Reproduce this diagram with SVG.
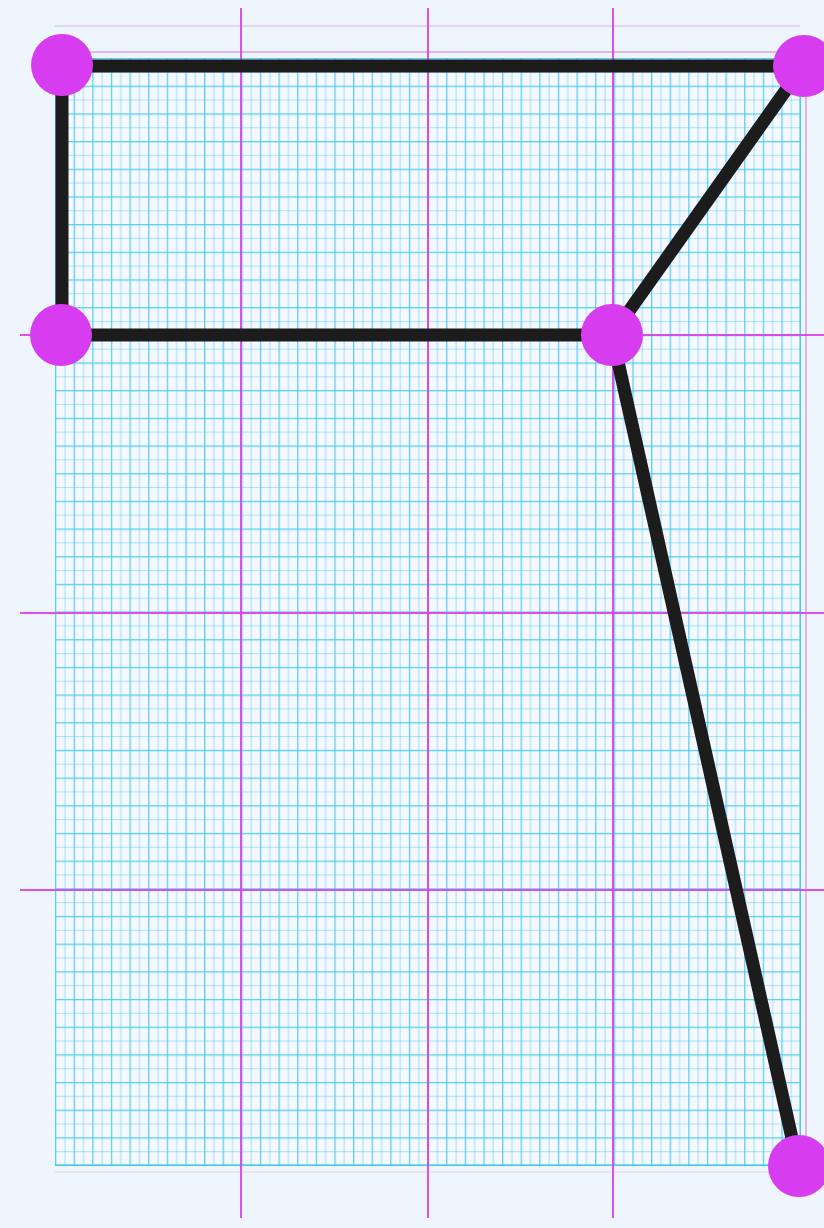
<svg xmlns="http://www.w3.org/2000/svg" width="824" height="1228" viewBox="0 0 824 1228">
<defs>
<pattern id="grid" patternUnits="userSpaceOnUse" x="55" y="58" width="18.625" height="27.675">
<line x1="0.6" y1="0" x2="0.6" y2="27.675" stroke="#3fc8ee" stroke-width="1.4" opacity="0.85"/>
<line x1="9.9" y1="0" x2="9.9" y2="27.675" stroke="#3fc8ee" stroke-width="1" opacity="0.5"/>
<line x1="0" y1="0.6" x2="18.625" y2="0.6" stroke="#3fc8ee" stroke-width="1.4" opacity="0.85"/>
<line x1="0" y1="14.4" x2="18.625" y2="14.4" stroke="#3fc8ee" stroke-width="1" opacity="0.45"/>
</pattern>
<style>
.major{stroke:#de3fe6;stroke-width:2;opacity:0.9}
.thin{stroke:#d9a0e8;stroke-width:1.5}
.edge{stroke:#1c1c1c;stroke-width:13;stroke-linecap:round}
.node{fill:#d83cf0}
</style>
</defs>
<rect width="824" height="1228" fill="#eef5fd"/>
<g id="grid-paper">
<rect x="55" y="58" width="745" height="1107" fill="#f6f8ff"/>
<rect x="55" y="58" width="746" height="1108" fill="url(#grid)"/>
<line x1="800" y1="58" x2="800" y2="1165" stroke="#3fc8ee" stroke-width="1.3" opacity="0.85"/>
<line x1="55" y1="1165" x2="800" y2="1165" stroke="#3fc8ee" stroke-width="1.3" opacity="0.85"/>
<line class="thin" x1="55" y1="26" x2="800" y2="26" opacity="0.5"/>
<line class="thin" x1="55" y1="52" x2="805" y2="52" stroke="#b47ad8"/>
<line class="thin" x1="806" y1="40" x2="806" y2="1170"/>
<line class="thin" x1="55" y1="1172" x2="800" y2="1172" opacity="0.3"/>
<line class="major" x1="241" y1="8" x2="241" y2="1218"/>
<line class="major" x1="428" y1="8" x2="428" y2="1218"/>
<line class="major" x1="613" y1="8" x2="613" y2="1218"/>
<line class="major" x1="20" y1="335" x2="824" y2="335"/>
<line class="major" x1="20" y1="613" x2="824" y2="613" stroke="#b255d8"/>
<line class="major" x1="20" y1="890" x2="824" y2="890"/>
</g>
<g id="connectors">
<line class="edge" x1="62" y1="66" x2="803" y2="66"/>
<line class="edge" x1="62" y1="66" x2="62" y2="335"/>
<line class="edge" x1="61" y1="335" x2="612" y2="335"/>
<line class="edge" x1="612" y1="335" x2="803" y2="66"/>
<line class="edge" x1="612" y1="335" x2="798" y2="1165"/>
</g>
<g id="node-a"><circle class="node" cx="62" cy="65" r="31"/></g>
<g id="node-b"><circle class="node" cx="804" cy="66" r="31"/></g>
<g id="node-c"><circle class="node" cx="61" cy="335" r="31"/></g>
<g id="node-d"><circle class="node" cx="612" cy="335" r="31"/></g>
<g id="node-e"><circle class="node" cx="799" cy="1166" r="31"/></g>
</svg>
